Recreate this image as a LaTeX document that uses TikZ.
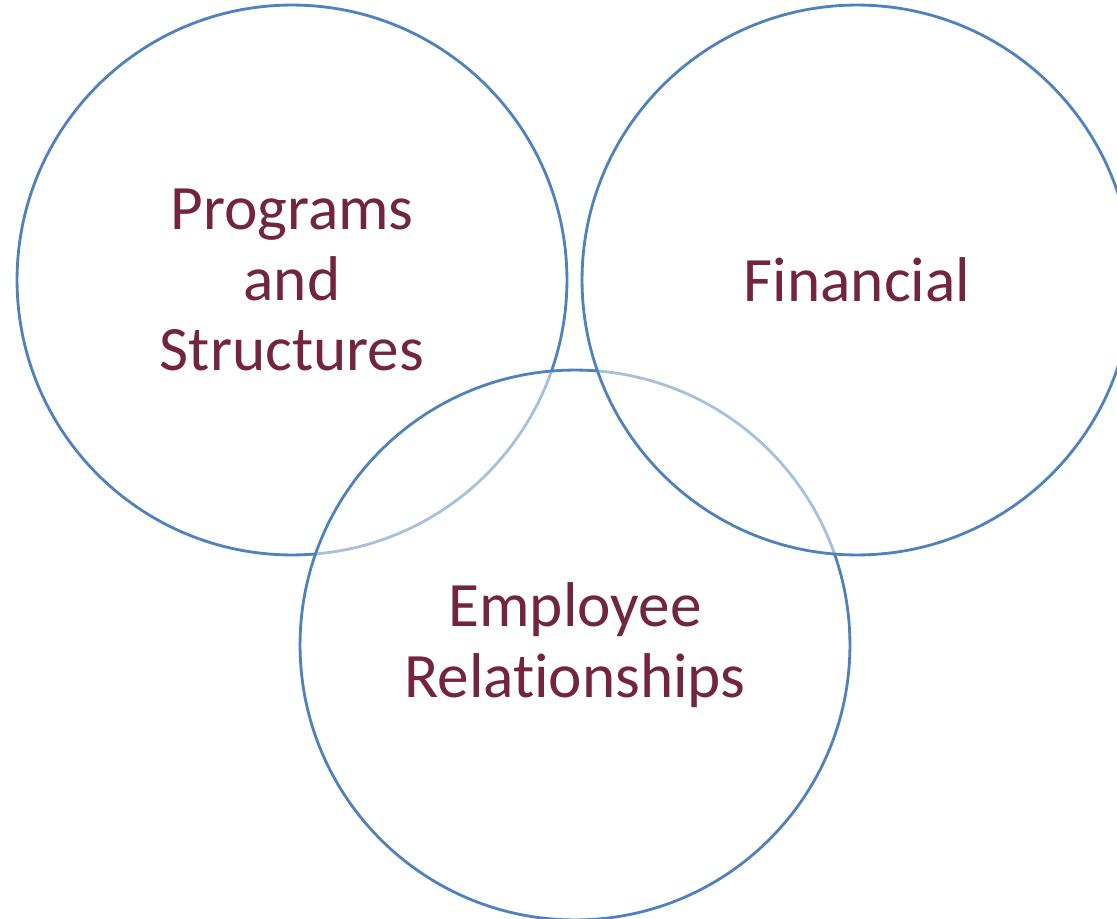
\documentclass[tikz,border=0pt]{standalone}
\usepackage{fontspec}
\setmainfont{Carlito}[RawFeature={-liga;-clig;-calt;-dlig}]
\usepackage{tikz}

\definecolor{ringblue}{RGB}{79,129,189}
\definecolor{labelred}{RGB}{114,36,64}

\begin{document}
\begin{tikzpicture}[x=0.02cm, y=-0.02cm,
    area/.style={circle, draw=ringblue, line width=1.6pt, minimum size=11cm,
      inner sep=0pt, fill=white, fill opacity=0.5, draw opacity=1,
      text opacity=1, text=labelred, align=center,
      font=\fontsize{36}{40}\selectfont}]
  \useasboundingbox (0,0) rectangle (1117,919);
  % Left ring
  \node[area, fill opacity=0] (programs) at (292,280) {Programs\\and\\Structures};
  % Bottom ring, half-white fill fades the left ring's arc
  \node[area] (employee) at (575,645) {Employee\\Relationships};
  % Right ring, drawn last so it fades the bottom ring's arc
  \node[area] (financial) at (857,280) {Financial};
\end{tikzpicture}
\end{document}
